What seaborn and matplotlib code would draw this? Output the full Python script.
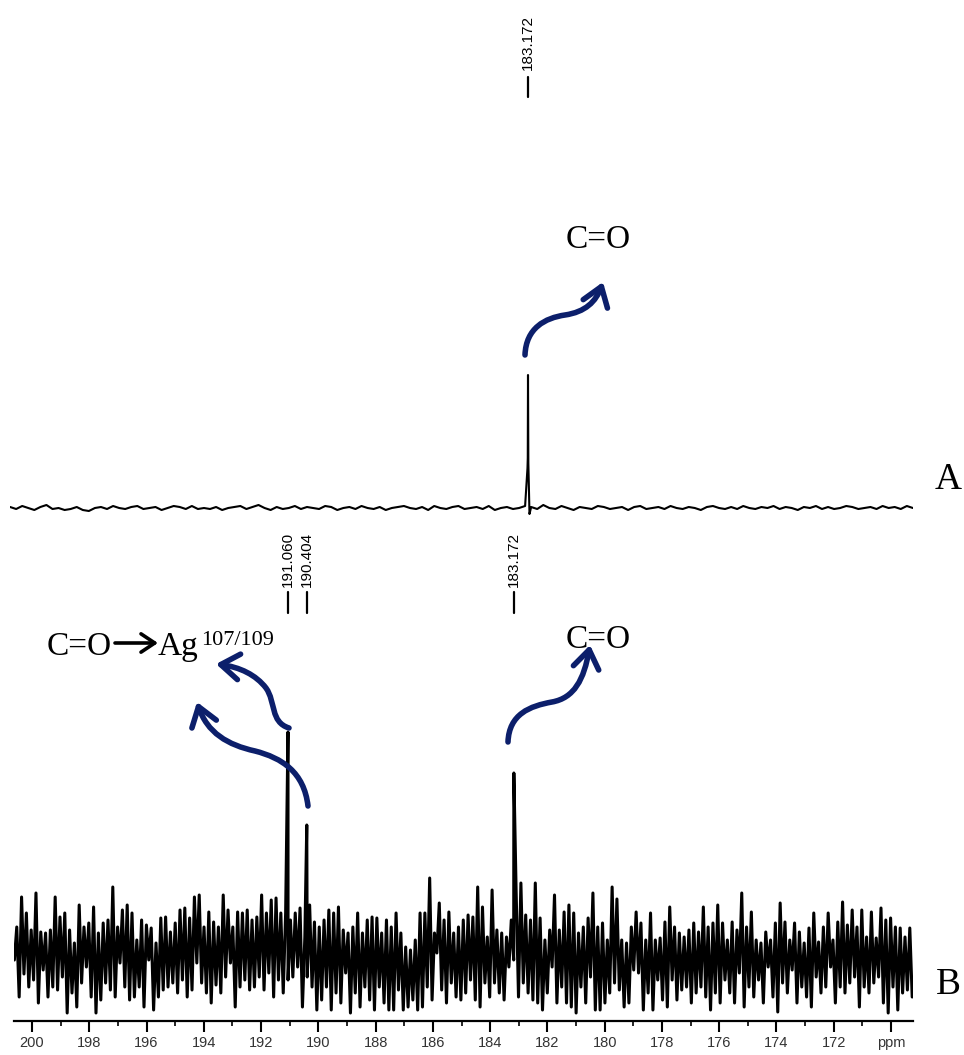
import numpy as np
import pandas as pd
import matplotlib
matplotlib.use("Agg")
import matplotlib.pyplot as plt
import seaborn as sns
from matplotlib.path import Path
from matplotlib.patches import FancyArrowPatch

# ---------------- data ----------------
# spectrum B: alternating maxima / minima of the noise (intensity, arbitrary units),
# left (200.7 ppm) to right (169.3 ppm)
b_upper = [14, 30, 60, 44, 27, 64, 25, 24, 27, 60, 40, 44, 27, 14, 52, 30, 34, 50, 24, 34, 37, 70, 30, 47, 52,
           44, 17, 37, 32, 29, 14, 39, 40, 25, 34, 47, 49, 39, 60, 62, 30, 45, 35, 30, 62, 47, 30, 45, 44, 47,
           37, 40, 62, 44, 57, 59, 44, 44, 37, 44, 49, 20, 52, 35, 30, 37, 47, 44, 50, 27, 24, 30, 44, 24, 37,
           40, 39, 24, 37, 30, 44, 24, 10, 7, 17, 44, 44, 79, 24, 54, 37, 45, 24, 30,
           37, 42, 40, 70, 50, 20, 67, 27, 24, 20, 37, 67, 74, 42, 37, 74, 39, 17, 27, 62, 27, 45, 52, 44, 24,
           30, 39, 64, 30, 34, 17, 70, 58, 17, 14, 30, 45, 34, 17, 44, 17, 19, 35, 50, 30, 24, 20,
           27, 34, 25, 50, 30, 34, 52, 34, 17, 35, 27, 64, 30, 45, 17, 14, 25, 17, 34, 54, 35, 17, 34, 25, 14,
           29, 44, 15, 30, 44, 17, 35, 55, 32, 47, 30, 47, 20, 45, 19, 49, 37, 39, 30, 29, 20, 29]
b_lower = [-3, -40, -17, -30, -23, -46, -13, -40, -30, -33, -20, -56, -36, -50, -26, -10, -40, -56, -43, -26,
           -33, -40, -6, -30, -43, -40, -30, -50, -3, -53, -40, -33, -30, -26, -36, -23, -40, -33, -6, -26,
           -36, -46, -28, -36, -20, -6, -50, -30, -23, -33,
           -30, -20, -33, -16, -40, -23, -36, -23, -20, -10, -50, -20, -30, -53, -43, -30, -53, -36, -46,
           -16, -56, -36, -50, -30, -43, -53, -30, -46, -53, -53, -33, -53, -50, -43, -53, -50, -30, -43, 4,
           -33, -46, -26, -40, -43,
           -36, -23, -43, -50, -26, -40, -26, -36, -43, -10, -3, -40, -26, -36, -43, -46, -53, -36, -10, -46,
           -30, -46, -50, -56, -30, -46, -20, -53, -53, -46, -36, -26, -33, -50, -46, -13, -16, -53, -36, -53,
           -23, -43, -50, -23, -43, -33, -30,
           -46, -36, -30, -40, -53, -36, -46, -23, -36, -46, -16, -50, -30, -40, -23, -46, -10, -40, -55, -26,
           -36, -13, -46, -30, -40, -50, -20, -36, -30, -10, -46, -30, -36, -26, -20, -50, -30, -36, -26, -20,
           -46, -56, -30, -53, -36, -33, -40]
b_peak_ppm = [191.060, 190.404, 183.172]
b_peak_int = [225, 132, 184]
b_peak_labels = ["191.060", "190.404", "183.172"]

# spectrum A: small baseline noise plus one carbonyl peak
a_noise = [1, -1, 2, 0, -2, 1, 3, -1, 0, -2, -1, 1, -2, -3, 0, 1, -1, 2, 0, -1, 1, 2, -1, 0, 1, -2, 0, 2, 1, -1,
           2, -1, 0, -1, 1, -2, 0, 1, 2, -1, 1, 3, 0, -2, 1, -1, 0, 2, -1, 1, 0, -1, 2, 1, -2, 0, 1, -1, 2, 0,
           -1, 1, -2, 0, 1, 2, 0, -1, 1, -2, 2, 0, -1, 1, 2, -1, 0, 1, -1, 2, -2, 0, 1, -1, 0, 2, 1, -1, 3, 0,
           -1, 2, 0, -2, 1, 0, -1, 2, 1, -1, 0, 1, -2, 1, 2, -1, 0, 1, -1, 2, 0, -1, 1, 0, -2, 1, 2, 0, -1, 1,
           -1, 2, 0, -1, 1, 0, 2, -1, 1, 0, -2, 1, 0, 2, -1, 1, -1, 0, 2, 1, -1, 0, 1, -1, 2, 0, 1, -1, 2, 0]
a_peak_ppm = [183.19, 183.18, 183.172, 183.16, 183.12]
a_peak_int = [40, 50, 133, 45, -6]
a_peak_labels = ["183.172"]

tick_ppm = [200, 198, 196, 194, 192, 190, 188, 186, 184, 182, 180, 178, 176, 174, 172, 170]
tick_labels = ["200", "198", "196", "194", "192", "190", "188", "186", "184", "182", "180", "178",
               "176", "174", "172", "ppm"]
minor_ppm = [199, 197, 195, 193, 191, 189, 187, 185, 183, 181, 179, 177, 175, 173, 171]

# ---------------- figure ----------------
sns.set_style("white")
plt.rcParams["font.family"] = ["Liberation Sans", "DejaVu Sans"]
plt.rcParams["text.color"] = "black"
SERIF = ["Liberation Serif", "DejaVu Serif"]
NAVY = "#0c1f6b"

W, H = 964, 1055
fig = plt.figure(figsize=(W / 100, H / 100), dpi=100)


def rect(l, t, r, b):
    return [l / W, 1 - b / H, (r - l) / W, (b - t) / H]


ax_a = fig.add_axes(rect(10, 360, 913, 530))
ax_b = fig.add_axes(rect(14, 700, 913, 1021))
ov = fig.add_axes([0, 0, 1, 1])
ov.set_xlim(0, W)
ov.set_ylim(H, 0)
ov.axis("off")
ov.patch.set_alpha(0)

# ---- spectrum B: noise alternates maximum / minimum ----
n = min(len(b_upper), len(b_lower))
noise_b = np.empty(2 * n)
noise_b[0::2] = b_upper[:n]
noise_b[1::2] = b_lower[:n]
ppm_b = np.linspace(200.70, 169.26, 2 * n)
df_b = pd.DataFrame({
    "ppm": np.concatenate([ppm_b, b_peak_ppm]),
    "intensity": np.concatenate([noise_b, b_peak_int]),
}).sort_values("ppm", ascending=False)
sns.lineplot(data=df_b, x="ppm", y="intensity", ax=ax_b, color="black", lw=2.2,
             estimator=None, sort=False)
ax_b.set_xlim(200.629, 169.232)
ax_b.set_ylim(-64, 257)
ax_b.patch.set_alpha(0)
for s in ["top", "left", "right"]:
    ax_b.spines[s].set_visible(False)
ax_b.spines["bottom"].set_linewidth(1.6)
ax_b.spines["bottom"].set_color("black")
ax_b.set_xticks(tick_ppm)
ax_b.set_xticklabels(tick_labels)
ax_b.set_xticks(minor_ppm, minor=True)
ax_b.set_yticks([])
ax_b.set_xlabel("")
ax_b.set_ylabel("")
ax_b.tick_params(axis="x", which="major", bottom=True, length=8, width=1.5, direction="out",
                 labelsize=10.5, pad=3, labelcolor="#333333", color="black")
ax_b.tick_params(axis="x", which="minor", bottom=True, length=3.5, width=1.2, direction="out",
                 color="black")

for p, lab in zip(b_peak_ppm, b_peak_labels):
    ax_b.text(p, 370, lab, rotation=90, ha="center", va="bottom", fontsize=11, clip_on=False,
              color="black")
    ax_b.plot([p, p], [344, 365], color="black", lw=1.6, clip_on=False)

# ---- spectrum A ----
ppm_a = np.linspace(201.26, 169.73, len(a_noise))
df_a = pd.DataFrame({
    "ppm": np.concatenate([ppm_a, a_peak_ppm]),
    "intensity": np.concatenate([a_noise, a_peak_int]),
}).sort_values("ppm", ascending=False)
sns.lineplot(data=df_a, x="ppm", y="intensity", ax=ax_a, color="black", lw=1.5,
             estimator=None, sort=False)
ax_a.set_xlim(201.263, 169.726)
ax_a.set_ylim(-22, 148)
ax_a.axis("off")
for lab in a_peak_labels:
    p = float(lab)
    ax_a.text(p, 438, lab, rotation=90, ha="center", va="bottom", fontsize=11, clip_on=False,
              color="black")
    ax_a.plot([p, p], [411, 431], color="black", lw=1.6, clip_on=False)

# ---- annotations (pixel overlay) ----
ov.text(598, 240, "C=O", fontsize=24, family=SERIF, ha="center", va="center", color="black")
ov.text(598, 640, "C=O", fontsize=24, family=SERIF, ha="center", va="center", color="black")
ov.text(47, 655, "C=O", fontsize=24, family=SERIF, ha="left", va="baseline", color="black")
ov.annotate("", xy=(158, 643), xytext=(115, 643),
            arrowprops=dict(arrowstyle="->,head_length=0.45,head_width=0.3", lw=2.6,
                            color="black", mutation_scale=22, shrinkA=0, shrinkB=0))
ov.text(158, 655, "Ag", fontsize=24, family=SERIF, ha="left", va="baseline", color="black")
ov.text(201, 645, "107/109", fontsize=16, family=SERIF, ha="left", va="baseline", color="black")
ov.text(948, 480, "A", fontsize=27, family=SERIF, ha="center", va="center", color="black")
ov.text(948, 985, "B", fontsize=27, family=SERIF, ha="center", va="center", color="black")

C = [Path.MOVETO] + [Path.CURVE4] * 6
arrow_paths = [
    [(525, 355), (526, 328), (545, 318), (565, 315), (585, 312), (596, 302), (603, 282)],
    [(508, 742), (509, 714), (530, 706), (552, 702), (574, 698), (584, 680), (590, 645)],
    [(289, 728), (270, 722), (276, 702), (266, 688), (256, 675), (240, 667), (216, 664)],
    [(308, 806), (304, 772), (282, 758), (255, 751), (228, 745), (207, 733), (197, 702)],
]
for verts in arrow_paths:
    arr = FancyArrowPatch(path=Path(verts, C),
                          arrowstyle="->,head_length=0.6,head_width=0.42",
                          mutation_scale=22, lw=4.0, color=NAVY,
                          capstyle="round", joinstyle="round")
    ov.add_patch(arr)

fig.savefig("out.png", dpi=100, facecolor="white")
